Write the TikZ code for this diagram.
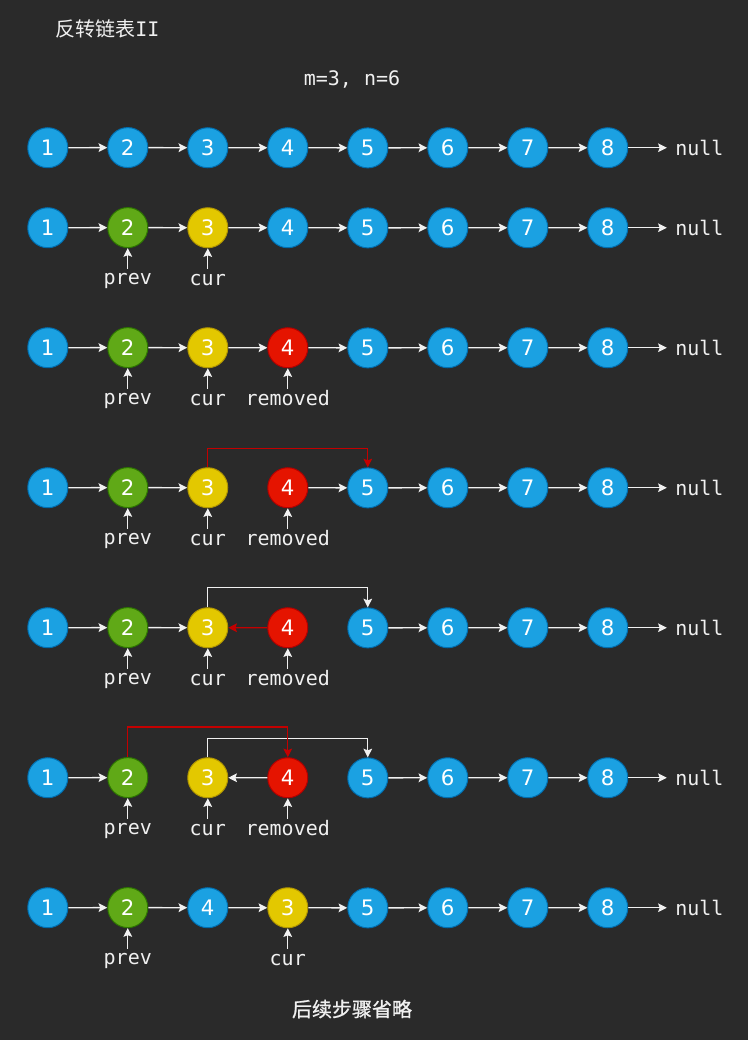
\documentclass[tikz,border=0pt]{standalone}
\usepackage{fontspec}
\usetikzlibrary{arrows.meta,positioning,matrix}

\newfontfamily\codeface{DejaVu Sans Mono}
\newfontfamily\digitface{DejaVu Sans}
\newfontfamily\cjkface{Noto Sans CJK SC}
\newfontfamily\cjkboldface[FakeBold=1]{Noto Sans CJK SC}
\newcommand{\codefont}{\codeface\fontsize{15pt}{17pt}\selectfont}
\newcommand{\digitfont}{\digitface\fontsize{16pt}{16pt}\selectfont}

\definecolor{bgdark}{HTML}{2A2A2A}
\definecolor{nblue}{HTML}{1BA1E2}
\definecolor{nblueD}{HTML}{006EAF}
\definecolor{ngreen}{HTML}{60A917}
\definecolor{ngreenD}{HTML}{2D7600}
\definecolor{nyellow}{HTML}{E3C800}
\definecolor{nyellowD}{HTML}{B09500}
\definecolor{nred}{HTML}{E51400}
\definecolor{nredD}{HTML}{B20000}
\definecolor{redline}{HTML}{C40000}
\definecolor{linkgray}{HTML}{F0F0F0}

\begin{document}
\begin{tikzpicture}[
    vnode/.style={circle, minimum size=30pt, inner sep=0pt, fill=nblue, draw=nblueD, line width=0.75pt, text=white, font=\digitfont},
    gnode/.style={vnode, fill=ngreen, draw=ngreenD},
    ynode/.style={vnode, fill=nyellow, draw=nyellowD},
    rnode/.style={vnode, fill=nred, draw=nredD},
    endtxt/.style={draw=none, fill=none, inner sep=4pt, font=\codefont, text=linkgray},
    tag/.style={inner sep=1pt, text height=11pt, text depth=3pt, font=\codefont, text=linkgray},
    chain/.style={matrix of nodes, nodes={vnode}, column sep=29.25pt, inner sep=0pt, anchor=west},
    link/.style={-{Stealth[length=6.5pt,width=6.5pt,inset=1.2pt]}, line width=1pt, linkgray},
    rlink/.style={link, redline}
  ]
    \fill[bgdark] (0,0) rectangle (561pt,-780pt);
    \useasboundingbox (0,0) rectangle (561pt,-780pt);

    % Titel
    \node[anchor=west, inner sep=0pt, text=linkgray] (title) at (41.25pt,-21.75pt)
      {{\cjkface\fontsize{15pt}{16pt}\selectfont 反转链表}{\codefont II}};
    \node[inner sep=0pt, font=\codefont, text=linkgray] (params) at (264pt,-59.25pt) {m=3, n=6};

    % Zeile 1
    \matrix (r1) [chain] at (20.25pt,-111pt) {
      1 & 2 & 3 & 4 & 5 & 6 & 7 & 8 & |[endtxt]| null \\
    };
    \foreach \a/\b in {1/2,2/3,3/4,4/5,5/6,6/7,7/8}
      \draw[link] (r1-1-\a) -- (r1-1-\b);
    \draw[link] (r1-1-8.east) -- (r1-1-8.east -| r1-1-9.west);

    % Zeile 2
    \matrix (r2) [chain] at (20.25pt,-171pt) {
      1 & |[gnode]| 2 & |[ynode]| 3 & 4 & 5 & 6 & 7 & 8 & |[endtxt]| null \\
    };
    \foreach \a/\b in {1/2,2/3,3/4,4/5,5/6,6/7,7/8}
      \draw[link] (r2-1-\a) -- (r2-1-\b);
    \draw[link] (r2-1-8.east) -- (r2-1-8.east -| r2-1-9.west);
    \node[tag, below=15.4pt of r2-1-2] (r2prev) {prev};
    \node[tag, below=15.4pt of r2-1-3] (r2cur) {cur};
    \draw[link] (r2prev) -- (r2-1-2);
    \draw[link] (r2cur) -- (r2-1-3);

    % Zeile 3
    \matrix (r3) [chain] at (20.25pt,-261pt) {
      1 & |[gnode]| 2 & |[ynode]| 3 & |[rnode]| 4 & 5 & 6 & 7 & 8 & |[endtxt]| null \\
    };
    \foreach \a/\b in {1/2,2/3,3/4,4/5,5/6,6/7,7/8}
      \draw[link] (r3-1-\a) -- (r3-1-\b);
    \draw[link] (r3-1-8.east) -- (r3-1-8.east -| r3-1-9.west);
    \node[tag, below=15.4pt of r3-1-2] (r3prev) {prev};
    \node[tag, below=15.4pt of r3-1-3] (r3cur) {cur};
    \node[tag, below=15.4pt of r3-1-4] (r3rem) {removed};
    \draw[link] (r3prev) -- (r3-1-2);
    \draw[link] (r3cur) -- (r3-1-3);
    \draw[link] (r3rem) -- (r3-1-4);

    % Zeile 4
    \matrix (r4) [chain] at (20.25pt,-366pt) {
      1 & |[gnode]| 2 & |[ynode]| 3 & |[rnode]| 4 & 5 & 6 & 7 & 8 & |[endtxt]| null \\
    };
    \foreach \a/\b in {1/2,2/3,4/5,5/6,6/7,7/8}
      \draw[link] (r4-1-\a) -- (r4-1-\b);
    \draw[link] (r4-1-8.east) -- (r4-1-8.east -| r4-1-9.west);
    \draw[rlink] (r4-1-3.north) -- ++(0,14.25pt) -| (r4-1-5.north);
    \node[tag, below=15.4pt of r4-1-2] (r4prev) {prev};
    \node[tag, below=15.4pt of r4-1-3] (r4cur) {cur};
    \node[tag, below=15.4pt of r4-1-4] (r4rem) {removed};
    \draw[link] (r4prev) -- (r4-1-2);
    \draw[link] (r4cur) -- (r4-1-3);
    \draw[link] (r4rem) -- (r4-1-4);

    % Zeile 5
    \matrix (r5) [chain] at (20.25pt,-471pt) {
      1 & |[gnode]| 2 & |[ynode]| 3 & |[rnode]| 4 & 5 & 6 & 7 & 8 & |[endtxt]| null \\
    };
    \foreach \a/\b in {1/2,2/3,5/6,6/7,7/8}
      \draw[link] (r5-1-\a) -- (r5-1-\b);
    \draw[link] (r5-1-8.east) -- (r5-1-8.east -| r5-1-9.west);
    \draw[link] (r5-1-3.north) -- ++(0,15pt) -| (r5-1-5.north);
    \draw[rlink] (r5-1-4) -- (r5-1-3);
    \node[tag, below=15.4pt of r5-1-2] (r5prev) {prev};
    \node[tag, below=15.4pt of r5-1-3] (r5cur) {cur};
    \node[tag, below=15.4pt of r5-1-4] (r5rem) {removed};
    \draw[link] (r5prev) -- (r5-1-2);
    \draw[link] (r5cur) -- (r5-1-3);
    \draw[link] (r5rem) -- (r5-1-4);

    % Zeile 6
    \matrix (r6) [chain] at (20.25pt,-583.5pt) {
      1 & |[gnode]| 2 & |[ynode]| 3 & |[rnode]| 4 & 5 & 6 & 7 & 8 & |[endtxt]| null \\
    };
    \foreach \a/\b in {1/2,4/3,5/6,6/7,7/8}
      \draw[link] (r6-1-\a) -- (r6-1-\b);
    \draw[link] (r6-1-8.east) -- (r6-1-8.east -| r6-1-9.west);
    \draw[link] (r6-1-3.north) -- ++(0,14.25pt) -| (r6-1-5.north);
    \draw[rlink] (r6-1-2.north) -- ++(0,22.5pt) -| (r6-1-4.north);
    \node[tag, below=15.4pt of r6-1-2] (r6prev) {prev};
    \node[tag, below=15.4pt of r6-1-3] (r6cur) {cur};
    \node[tag, below=15.4pt of r6-1-4] (r6rem) {removed};
    \draw[link] (r6prev) -- (r6-1-2);
    \draw[link] (r6cur) -- (r6-1-3);
    \draw[link] (r6rem) -- (r6-1-4);

    % Zeile 7
    \matrix (r7) [chain] at (20.25pt,-681pt) {
      1 & |[gnode]| 2 & 4 & |[ynode]| 3 & 5 & 6 & 7 & 8 & |[endtxt]| null \\
    };
    \foreach \a/\b in {1/2,2/3,3/4,4/5,5/6,6/7,7/8}
      \draw[link] (r7-1-\a) -- (r7-1-\b);
    \draw[link] (r7-1-8.east) -- (r7-1-8.east -| r7-1-9.west);
    \node[tag, below=15.4pt of r7-1-2] (r7prev) {prev};
    \node[tag, below=15.4pt of r7-1-4] (r7cur) {cur};
    \draw[link] (r7prev) -- (r7-1-2);
    \draw[link] (r7cur) -- (r7-1-4);

    \node[inner sep=0pt, text=linkgray, font=\cjkboldface\fontsize{15pt}{16pt}\selectfont] (footer) at (264pt,-756.75pt) {后续步骤省略};
  \end{tikzpicture}
\end{document}
